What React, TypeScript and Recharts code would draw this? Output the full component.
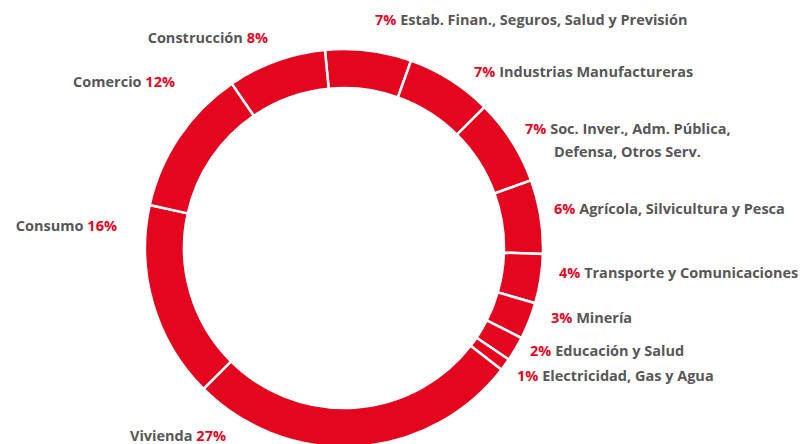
import { PieChart, Pie, Cell } from "recharts";

const sectors = [
  "Estab. Finan., Seguros, Salud y Previsión",
  "Industrias Manufactureras",
  "Soc. Inver., Adm. Pública,",
  "Agrícola, Silvicultura y Pesca",
  "Transporte y Comunicaciones",
  "Minería",
  "Educación y Salud",
  "Electricidad, Gas y Agua",
  "Vivienda",
  "Consumo",
  "Comercio",
  "Construcción",
];
const shares = [7, 7, 7, 6, 4, 3, 2, 1, 27, 16, 12, 8];
const extraLines: Record<number, string> = { 2: "Defensa, Otros Serv." };

// label layout: x, baseline y, side (right side = pct first, left side = pct last)
const labelPos: { x: number; y: number; side: "r" | "l" }[] = [
  { x: 375, y: 25, side: "r" },
  { x: 474, y: 77, side: "r" },
  { x: 525, y: 134, side: "r" },
  { x: 554, y: 214, side: "r" },
  { x: 559, y: 278, side: "r" },
  { x: 551, y: 323, side: "r" },
  { x: 530, y: 356, side: "r" },
  { x: 517, y: 381, side: "r" },
  { x: 226, y: 441, side: "l" },
  { x: 117, y: 231, side: "l" },
  { x: 175, y: 87, side: "l" },
  { x: 268, y: 43, side: "l" },
];

const RED = "#E4051F";
const GREY = "#575757";
const FS = 14.5;

const data = sectors.map((name, i) => ({ name, value: shares[i] }));

function renderLabel(props: any) {
  const i = props.index;
  const p = labelPos[i];
  const pct = `${shares[i]}%`;
  const extra = extraLines[i];
  if (p.side === "r") {
    return (
      <g key={`lbl-${i}`}>
        <text x={p.x} y={p.y} textAnchor="start" fontSize={FS} fontWeight={700}>
          <tspan fill={RED}>{pct}</tspan>
          <tspan fill={GREY}> {sectors[i]}</tspan>
        </text>
        {extra && (
          <text x={p.x + 29} y={p.y + 23} textAnchor="start" fontSize={FS} fontWeight={700} fill={GREY}>
            {extra}
          </text>
        )}
      </g>
    );
  }
  return (
    <text key={`lbl-${i}`} x={p.x} y={p.y} textAnchor="end" fontSize={FS} fontWeight={700}>
      <tspan fill={GREY}>{sectors[i]} </tspan>
      <tspan fill={RED}>{pct}</tspan>
    </text>
  );
}

export default function App() {
  return (
    <div style={{ position: "absolute", left: 0, top: 0, width: 808, height: 444, background: "#fff", fontFamily: "'Open Sans', sans-serif" }}>
      <PieChart width={808} height={444} margin={{ top: 0, right: 0, bottom: 0, left: 0 }}>
        <Pie
          data={data}
          dataKey="value"
          nameKey="name"
          cx={344}
          cy={248}
          innerRadius={160}
          outerRadius={199}
          startAngle={95.5}
          endAngle={-264.5}
          stroke="#ffffff"
          strokeWidth={2.5}
          label={renderLabel}
          labelLine={false}
          isAnimationActive={false}
        >
          {data.map((d) => (
            <Cell key={d.name} fill={RED} />
          ))}
        </Pie>
      </PieChart>
    </div>
  );
}
